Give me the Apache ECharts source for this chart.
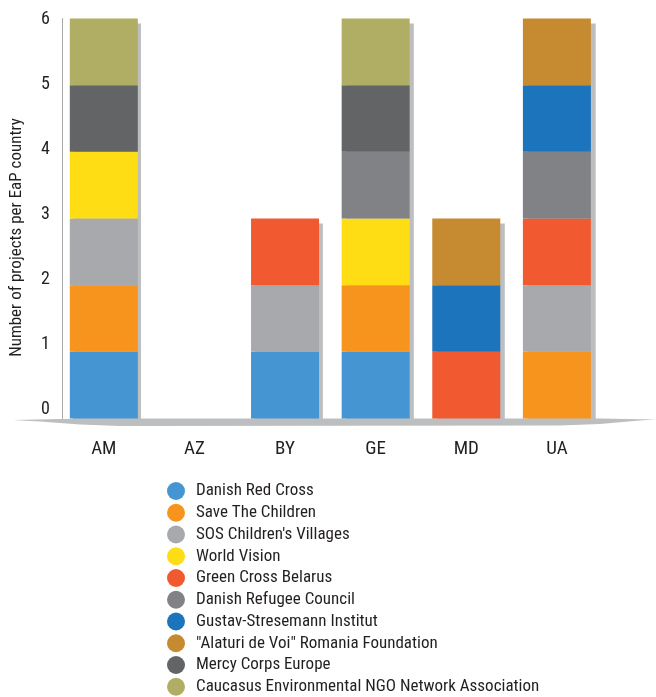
<!DOCTYPE html>
<html>
<head>
<meta charset="utf-8">
<script src="https://cdn.jsdelivr.net/npm/echarts@6/dist/echarts.min.js"></script>
<style>
html,body{margin:0;padding:0;background:#fff}
#chart{width:656px;height:697px}
</style>
</head>
<body>
<div id="chart"></div>
<script>
// categories
var countries = ['AM', 'AZ', 'BY', 'GE', 'MD', 'UA'];
var yTicks = [0, 1, 2, 3, 4, 5, 6];

// projects per organisation, one value per country
var danishRedCross   = [1, 0, 1, 1, 0, 0];
var saveTheChildren  = [1, 0, 0, 1, 0, 1];
var sosVillages      = [1, 0, 1, 0, 0, 1];
var worldVision      = [1, 0, 0, 1, 0, 0];
var greenCross       = [0, 0, 1, 0, 1, 1];
var danishRefugee    = [0, 0, 0, 1, 0, 1];
var gustavStresemann = [0, 0, 0, 0, 1, 1];
var alaturiDeVoi     = [0, 0, 0, 0, 1, 1];
var mercyCorps       = [1, 0, 0, 1, 0, 0];
var caucasusNgo      = [1, 0, 0, 1, 0, 0];

var orgNames = [
  'Danish Red Cross',
  'Save The Children',
  "SOS Children's Villages",
  'World Vision',
  'Green Cross Belarus',
  'Danish Refugee Council',
  'Gustav-Stresemann Institut',
  '"Alaturi de Voi" Romania Foundation',
  'Mercy Corps Europe',
  'Caucasus Environmental NGO Network Association'
];
var orgValues = [danishRedCross, saveTheChildren, sosVillages, worldVision, greenCross,
  danishRefugee, gustavStresemann, alaturiDeVoi, mercyCorps, caucasusNgo];
var orgColors = ['#4495d1', '#f7941e', '#a7a9ac', '#ffdd15', '#f15a31',
  '#808285', '#1c75bc', '#c68a30', '#636466', '#b0ad64'];

var FONT = '"Roboto Condensed","Liberation Sans Narrow","DejaVu Sans Condensed",sans-serif';
var SHADOW = '#bcbec0';
var TEXT = '#231f20';

// stack height per country, used for the drop shadow behind each bar
var totals = countries.map(function (c, i) {
  return orgValues.reduce(function (s, arr) { return s + arr[i]; }, 0);
});

var chart = echarts.init(document.getElementById('chart'));

var series = orgNames.map(function (name, k) {
  return {
    name: name,
    type: 'bar',
    stack: 'all',
    xAxisIndex: 0,
    yAxisIndex: 0,
    barWidth: 68,
    z: 3,
    data: orgValues[k],
    itemStyle: { color: orgColors[k] }
  };
});
series.unshift({
  name: 'shadow',
  type: 'bar',
  xAxisIndex: 1,
  yAxisIndex: 1,
  barWidth: 68,
  z: 1,
  silent: true,
  data: totals,
  itemStyle: { color: SHADOW }
});

var option = {
  backgroundColor: '#fff',
  animation: false,
  color: orgColors,
  grid: [
    { left: 56.5, width: 545.7, top: 18.5, height: 400 },
    { left: 61.5, width: 545.7, top: 23.5, height: 400 },
    // tick labels sit on a slightly tighter scale than the bars
    { left: 60, width: 545.7, top: 19, height: 390.5 }
  ],
  xAxis: [
    {
      type: 'category',
      gridIndex: 0,
      data: countries,
      axisLine: { show: false },
      axisTick: { show: false },
      axisLabel: { margin: 21, color: TEXT, fontFamily: FONT, fontSize: 19 }
    },
    { type: 'category', gridIndex: 1, data: countries, show: false },
    { type: 'category', gridIndex: 2, data: countries, show: false }
  ],
  yAxis: [
    {
      type: 'value',
      gridIndex: 0,
      min: 0,
      max: 6,
      interval: 1,
      offset: -3.5,
      name: 'Number of projects per EaP country',
      nameLocation: 'middle',
      nameGap: 37,
      nameTextStyle: { color: TEXT, fontFamily: FONT, fontSize: 17, padding: [0, 38, 0, 0] },
      axisLine: { show: true, lineStyle: { color: '#a7a9ac', width: 1 } },
      axisTick: { show: false },
      splitLine: { show: false },
      axisLabel: { show: false }
    },
    { type: 'value', gridIndex: 1, min: 0, max: 6, interval: 1, show: false },
    {
      type: 'value',
      gridIndex: 2,
      min: 0,
      max: 6,
      interval: 1,
      axisLine: { show: false },
      axisTick: { show: false },
      splitLine: { show: false },
      axisLabel: {
        margin: 10, color: TEXT, fontFamily: FONT, fontSize: 18,
        formatter: function (v) { return yTicks.indexOf(v) >= 0 ? String(v) : ''; }
      }
    }
  ],
  legend: {
    orient: 'vertical',
    left: 167,
    top: 482,
    height: 215,
    padding: 0,
    icon: 'circle',
    itemWidth: 18,
    itemHeight: 18,
    itemGap: 3.75,
    data: orgNames,
    selectedMode: false,
    textStyle: { color: TEXT, fontFamily: FONT, fontSize: 17, padding: [0, 0, 0, 6] }
  },
  graphic: [
    {
      // the grey ground plate under the bars
      type: 'polygon',
      z: 2,
      shape: {
        points: [
          [13, 420], [60, 419], [120, 418.5], [600, 418.5], [656, 419.5],
          [640, 420.5], [600, 424], [560, 425.5], [120, 426], [80, 424.5], [40, 421.5]
        ]
      },
      style: { fill: SHADOW }
    }
  ],
  series: series
};

chart.setOption(option);
</script>
</body>
</html>
